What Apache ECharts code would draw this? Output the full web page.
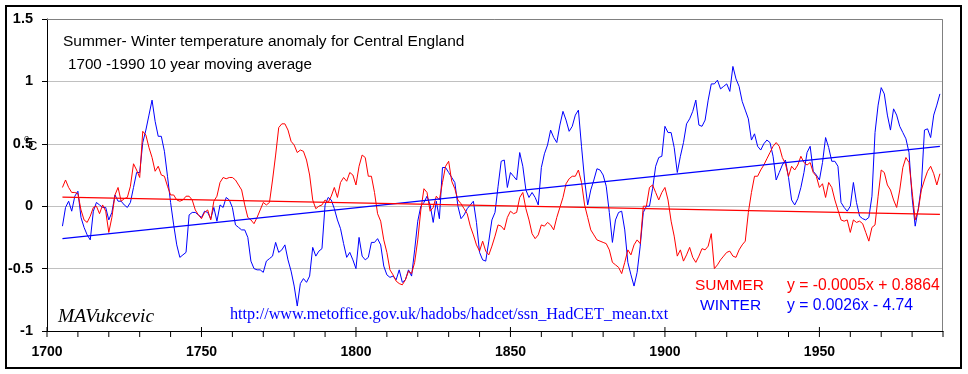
<!DOCTYPE html>
<html><head><meta charset="utf-8">
<script src="https://cdn.jsdelivr.net/npm/echarts@6/dist/echarts.min.js"></script>
<style>html,body{margin:0;padding:0;background:#fff}#c{width:968px;height:374px}</style>
</head><body><div id="c"></div>
<script>
// ---- data ----
const startYear = 1705;
const summer = [
 0.15, 0.21, 0.15, 0.11, 0.11, 0.10, -0.03, -0.11, -0.13, -0.08,
 -0.01, 0.00, -0.06, 0.01, -0.04, -0.21, -0.09, 0.09, 0.15, 0.04,
 0.06, 0.07, 0.16, 0.34, 0.29, 0.23, 0.60, 0.57, 0.47, 0.39,
 0.28, 0.32, 0.25, 0.24, 0.16, 0.09, 0.09, 0.05, 0.04, 0.05,
 0.08, 0.08, 0.05, -0.03, -0.07, -0.10, -0.05, -0.03, -0.11, 0.04,
 0.08, 0.19, 0.23, 0.22, 0.23, 0.23, 0.21, 0.17, 0.13, 0.01,
 -0.09, -0.11, -0.14, -0.09, -0.03, 0.03, 0.01, 0.03, 0.21, 0.41,
 0.63, 0.66, 0.66, 0.61, 0.52, 0.49, 0.43, 0.45, 0.44, 0.37,
 0.25, 0.05, -0.02, 0.00, 0.01, 0.05, 0.03, 0.08, 0.15, 0.07,
 0.19, 0.23,
 0.20, 0.27, 0.25, 0.17, 0.32, 0.41, 0.39, 0.24, 0.24, 0.11,
 -0.06, -0.12, -0.27, -0.37, -0.51, -0.55, -0.60, -0.62, -0.63, -0.59,
 -0.52, -0.54, -0.45, -0.27, -0.03, 0.14, 0.11, -0.04, -0.01, 0.08,
 0.05, 0.19, 0.32, 0.36, 0.20, 0.14, 0.05, 0.02, -0.02, -0.06,
 -0.16, -0.23, -0.31, -0.36, -0.28, -0.36, -0.39, -0.32, -0.24, -0.15,
 -0.16, -0.19, -0.09, -0.04, -0.06, -0.05, 0.07, 0.11, -0.02, -0.11,
 -0.22, -0.26, -0.23, -0.15, -0.16, -0.13, -0.15, -0.19, -0.09, -0.01,
 0.07, 0.18, 0.22, 0.24, 0.24, 0.29, 0.19, 0.01, -0.09, -0.19,
 -0.23, -0.27, -0.28, -0.29, -0.30, -0.35, -0.45, -0.47, -0.49, -0.54,
 -0.45, -0.35, -0.39, -0.31, -0.27,
 -0.30, 0.00, 0.00, 0.15, 0.17, 0.11, 0.05, 0.11, 0.15, 0.05,
 -0.12, -0.24, -0.40, -0.35, -0.44, -0.39, -0.33, -0.41, -0.45, -0.40,
 -0.34, -0.35, -0.32, -0.22, -0.50, -0.47, -0.43, -0.40, -0.37, -0.36,
 -0.40, -0.41, -0.35, -0.31, -0.28, -0.05, 0.11, 0.24, 0.24, 0.29,
 0.33, 0.38, 0.43, 0.48, 0.51, 0.48, 0.39, 0.34, 0.24, 0.32,
 0.29, 0.33, 0.40, 0.35, 0.33, 0.35, 0.27, 0.24, 0.15, 0.18,
 0.07, 0.19, 0.15, 0.05, -0.03, -0.11, -0.12, -0.11, -0.21, -0.11,
 -0.13, -0.12, -0.14, -0.21, -0.28, -0.17, -0.15, 0.08, 0.29, 0.27,
 0.17, 0.13, 0.05, -0.01, 0.13, 0.31, 0.39, 0.35, 0.12, -0.11,
 -0.03, 0.13, 0.21, 0.28, 0.32, 0.26, 0.17, 0.26
];
const winter = [
 -0.16, -0.01, 0.04, -0.04, 0.08, 0.12, -0.09, -0.17, -0.23, -0.27,
 -0.04, 0.03, 0.01, -0.01, -0.01, -0.11, -0.05, 0.09, 0.04, 0.04,
 0.01, -0.01, 0.03, 0.15, 0.27, 0.27, 0.51, 0.61, 0.73, 0.85,
 0.68, 0.56, 0.56, 0.44, 0.24, 0.03, -0.15, -0.31, -0.41, -0.39,
 -0.37, -0.07, -0.05, -0.05, -0.07, -0.09, -0.04, -0.05, -0.10, -0.01,
 -0.12, 0.01, -0.01, 0.07, 0.05, -0.01, -0.15, -0.17, -0.19, -0.19,
 -0.25, -0.44, -0.50, -0.51, -0.51, -0.53, -0.44, -0.42, -0.40, -0.29,
 -0.37, -0.35, -0.31, -0.43, -0.52, -0.64, -0.80, -0.62, -0.58, -0.61,
 -0.56, -0.33, -0.40, -0.36, -0.34, 0.01, 0.07, 0.05, -0.02, -0.11,
 -0.18, -0.30,
 -0.41, -0.37, -0.43, -0.50, -0.25, -0.40, -0.43, -0.41, -0.29, -0.29,
 -0.26, -0.31, -0.48, -0.55, -0.57, -0.56, -0.59, -0.51, -0.61, -0.59,
 -0.51, -0.56, -0.35, -0.12, 0.00, 0.03, 0.08, 0.01, -0.13, 0.04,
 -0.10, 0.31, 0.31, 0.27, 0.23, 0.19, 0.00, -0.10, -0.07, -0.02,
 0.01, 0.04, -0.13, -0.37, -0.43, -0.44, -0.28, -0.11, -0.05, 0.16,
 0.36, 0.37, 0.15, 0.27, 0.24, 0.21, 0.43, 0.32, 0.13, 0.07,
 0.11, 0.07, 0.01, 0.31, 0.42, 0.49, 0.61, 0.55, 0.51, 0.65,
 0.76, 0.69, 0.60, 0.64, 0.73, 0.77, 0.48, 0.21, 0.01, 0.13,
 0.21, 0.30, 0.29, 0.25, 0.16, -0.05, -0.29, -0.11, -0.05, -0.04,
 -0.19, -0.45, -0.55, -0.64, -0.53,
 -0.32, -0.05, 0.00, 0.00, 0.14, 0.32, 0.39, 0.40, 0.64, 0.59,
 0.59, 0.47, 0.27, 0.40, 0.51, 0.66, 0.70, 0.76, 0.85, 0.65,
 0.64, 0.69, 0.85, 0.98, 0.98, 1.01, 0.94, 0.96, 0.98, 0.92,
 1.12, 1.02, 0.96, 0.84, 0.77, 0.70, 0.53, 0.58, 0.48, 0.45,
 0.50, 0.53, 0.51, 0.40, 0.21, 0.27, 0.33, 0.37, 0.23, 0.05,
 0.01, 0.06, 0.15, 0.27, 0.43, 0.48, 0.28, 0.25, 0.21, 0.35,
 0.55, 0.47, 0.36, 0.36, 0.32, 0.03, -0.01, -0.04, 0.00, 0.19,
 0.03, -0.08, -0.10, -0.11, -0.09, 0.08, 0.59, 0.81, 0.95, 0.90,
 0.73, 0.61, 0.78, 0.73, 0.64, 0.59, 0.54, 0.43, 0.07, -0.16,
 -0.02, 0.16, 0.61, 0.62, 0.55, 0.73, 0.81, 0.90
];
const trendYears = [1705, 1989];
const summerTrend = [0.072, -0.066];
const winterTrend = [-0.26, 0.48];
const xLabelYears = [1700, 1750, 1800, 1850, 1900, 1950];
const xMinorTickYears = [1710, 1720, 1730, 1740, 1760, 1770, 1780, 1790, 1810, 1820, 1830, 1840,
  1860, 1870, 1880, 1890, 1910, 1920, 1930, 1940, 1960, 1970, 1980, 1990];

// ---- chart ----
const toPairs = (arr) => arr.map((v, i) => [startYear + i, v]);
const trendPairs = (arr) => arr.map((v, i) => [trendYears[i], v]);
const SANS = '"Liberation Sans", Arial, sans-serif';
const SERIF = '"Liberation Serif", "Times New Roman", serif';
const yMin = -1;

const chart = echarts.init(document.getElementById('c'), null, {renderer: 'canvas'});
chart.setOption({
  animation: false,
  backgroundColor: '#fff',
  grid: {left: 47, top: 19, right: 25, bottom: 43, containLabel: false},
  xAxis: {
    type: 'value', min: 1700, max: 1990, interval: 10,
    axisLine: {show: true, onZero: false, lineStyle: {color: '#000', width: 1}},
    axisTick: {show: false},
    axisLabel: {margin: 14, color: '#000', fontFamily: SANS, fontSize: 14, fontWeight: 'bold',
      showMaxLabel: false,
      formatter: v => (xLabelYears.indexOf(v) >= 0 ? String(v) : '')},
    splitLine: {show: false}
  },
  yAxis: {
    type: 'value', min: yMin, max: 1.5, interval: 0.5,
    axisLine: {show: true, onZero: false, lineStyle: {color: '#000', width: 1}},
    axisTick: {show: true, length: 5, lineStyle: {color: '#000'}},
    axisLabel: {margin: 14, color: '#000', fontFamily: SANS, fontSize: 14.5, fontWeight: 'bold',
      formatter: v => String(v)},
    splitLine: {show: true, lineStyle: {color: '#c0c0c0', width: 1}}
  },
  series: [
    {name: 'WINTER', type: 'line', data: toPairs(winter), showSymbol: false, symbol: 'none',
      lineStyle: {color: '#0000ff', width: 1}, itemStyle: {color: '#0000ff'}, z: 3},
    {name: 'SUMMER', type: 'line', data: toPairs(summer), showSymbol: false, symbol: 'none',
      lineStyle: {color: '#ff0000', width: 1}, itemStyle: {color: '#ff0000'}, z: 4},
    {name: 'WINTER trend', type: 'line', data: trendPairs(winterTrend), showSymbol: false, symbol: 'none',
      lineStyle: {color: '#0000ff', width: 1.3}, z: 5},
    {name: 'SUMMER trend', type: 'line', data: trendPairs(summerTrend), showSymbol: false, symbol: 'none',
      lineStyle: {color: '#ff0000', width: 1.3}, z: 5},
    {name: 'minor ticks', type: 'scatter', clip: false, silent: true, z: 6,
      data: xMinorTickYears.map(y => [y, yMin]),
      symbol: 'rect', symbolSize: [1, 6], symbolOffset: [0, 3],
      itemStyle: {color: '#000', opacity: 1}},
    {name: 'major ticks', type: 'scatter', clip: false, silent: true, z: 6,
      data: xLabelYears.map(y => [y, yMin]),
      symbol: 'rect', symbolSize: [1, 10], symbolOffset: [0, 1],
      itemStyle: {color: '#000', opacity: 1}}
  ],
  graphic: [
    {type: 'rect', shape: {x: 6, y: 6, width: 955, height: 362}, style: {fill: null, stroke: '#000', lineWidth: 2}, z: -1, silent: true},
    {type: 'polyline', shape: {points: [[47, 19.5], [942.5, 19.5], [942.5, 331]]}, style: {fill: null, stroke: '#808080', lineWidth: 1}, z: 1, silent: true},
    {type: 'text', style: {x: 63, y: 42, text: 'Summer- Winter temperature anomaly for Central England', font: '15.5px ' + SANS, fill: '#000', textVerticalAlign: 'middle'}, z: 10},
    {type: 'text', style: {x: 68, y: 65, text: '1700 -1990 10 year moving average', font: '15.2px ' + SANS, fill: '#000', textVerticalAlign: 'middle'}, z: 10},
    {type: 'text', style: {x: 24, y: 139, text: 'o', font: '9px ' + SANS, fill: '#000', textVerticalAlign: 'middle'}, z: 10},
    {type: 'text', style: {x: 28, y: 146, text: 'C', font: '13px ' + SANS, fill: '#000', textVerticalAlign: 'middle'}, z: 10},
    {type: 'text', style: {x: 58, y: 317, text: 'MAVukcevic', font: 'italic 19.5px ' + SERIF, fill: '#000', textVerticalAlign: 'middle'}, z: 10},
    {type: 'text', style: {x: 230, y: 315, text: 'http://www.metoffice.gov.uk/hadobs/hadcet/ssn_HadCET_mean.txt', font: '16.2px ' + SERIF, fill: '#0000ff', textVerticalAlign: 'middle'}, z: 10},
    {type: 'text', style: {x: 695, y: 286, text: 'SUMMER', font: '15.5px ' + SANS, fill: '#ff0000', textVerticalAlign: 'middle'}, z: 10},
    {type: 'text', style: {x: 787, y: 286, text: 'y = -0.0005x + 0.8864', font: '15.7px ' + SANS, fill: '#ff0000', textVerticalAlign: 'middle'}, z: 10},
    {type: 'text', style: {x: 700, y: 306, text: 'WINTER', font: '15.5px ' + SANS, fill: '#0000ff', textVerticalAlign: 'middle'}, z: 10},
    {type: 'text', style: {x: 787, y: 306, text: 'y = 0.0026x - 4.74', font: '15.7px ' + SANS, fill: '#0000ff', textVerticalAlign: 'middle'}, z: 10}
  ]
});
</script>
</body></html>
